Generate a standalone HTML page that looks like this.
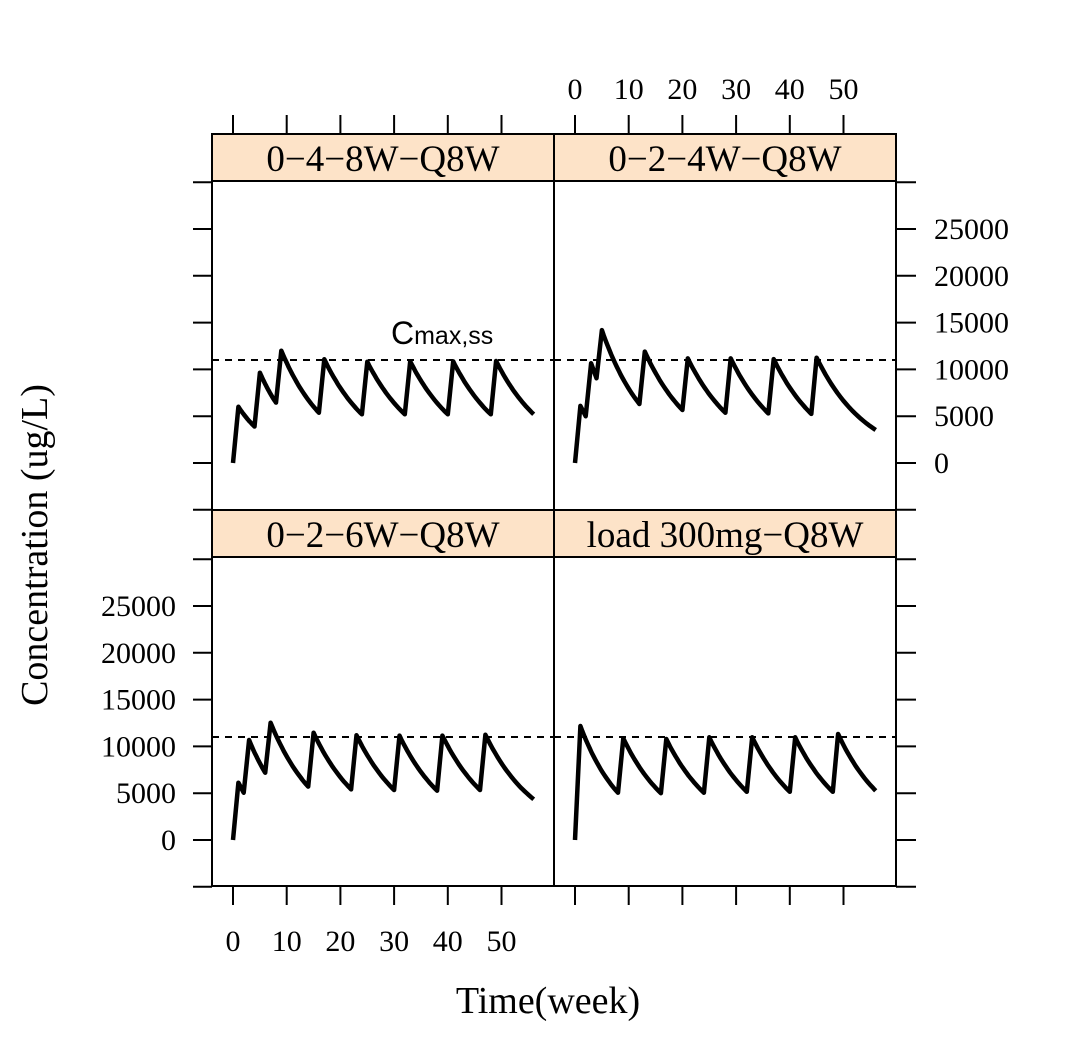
<!DOCTYPE html>
<html><head><meta charset="utf-8"><style>
html,body{margin:0;padding:0;background:#fff;}
svg{display:block;}
text{font-family:"Liberation Serif",serif;fill:#000;}
</style></head><body>
<svg id="chart" width="1080" height="1052" viewBox="0 0 1080 1052" xmlns="http://www.w3.org/2000/svg">
<g id="layer"></g>
</svg>
<script>
const panelNames = ["0\u22124\u22128W\u2212Q8W","0\u22122\u22124W\u2212Q8W","0\u22122\u22126W\u2212Q8W","load 300mg\u2212Q8W"];
const xTicks = [0,10,20,30,40,50];
const yTicks = [0,5000,10000,15000,20000,25000];
const yMinorTicks = [-5000,0,5000,10000,15000,20000,25000,30000];
const cmaxLine = 11000;
const t1 = [0,1,4,5,8,9,16,17,24,25,32,33,40,41,48,49,56];
const v1 = [0,6000,3900,9650,6450,12000,5370,11080,5200,10820,5200,10850,5200,10850,5200,10900,5200];
const t2 = [0,1,2,3,4,5,12,13,20,21,28,29,36,37,44,45,56];
const v2 = [0,6100,5000,10650,9050,14200,6300,11900,5660,11180,5370,11180,5300,11100,5250,11250,3530];
const t3 = [0,1,2,3,6,7,14,15,22,23,30,31,38,39,46,47,56];
const v3 = [0,6120,5050,10680,7190,12530,5700,11460,5410,11200,5340,11150,5270,11150,5340,11250,4350];
const t4 = [0,1,8,9,16,17,24,25,32,33,40,41,48,49,56];
const v4 = [0,12180,5050,10860,5000,10790,5050,10970,5150,10970,5150,10970,5150,11320,5260];

const NS="http://www.w3.org/2000/svg";
const L=document.getElementById('layer');
function mk(tag,attrs,parent){const e=document.createElementNS(NS,tag);for(const k in attrs)e.setAttribute(k,attrs[k]);(parent||L).appendChild(e);return e;}
const PX=[212,554], PW=342;
const STRIP=[[134,181],[510,557]];
const PLOT=[[181,510],[557,886]];
const ZERO=[463,840];
const K=0.00936, XK=5.37, X0OFF=21;
function sx(col,t){return PX[col]+X0OFF+t*XK;}
function sy(row,v){return ZERO[row]-v*K;}
const series=[[t1,v1],[t2,v2],[t3,v3],[t4,v4]];

for(let p=0;p<4;p++){
  const row=Math.floor(p/2), col=p%2;
  const g=mk('g',{});
  
  
  const s=mk('rect',{x:PX[col],y:STRIP[row][0],width:PW,height:STRIP[row][1]-STRIP[row][0],fill:'#fde3c8',stroke:'#000','stroke-width':2},g);
  
  
  const st=mk('text',{x:PX[col]+PW/2,y:STRIP[row][1]-10,'text-anchor':'middle','font-size':37},g);
  st.textContent=panelNames[p];
  
  
  const pr=mk('rect',{x:PX[col],y:PLOT[row][0],width:PW,height:PLOT[row][1]-PLOT[row][0],fill:'none',stroke:'#000','stroke-width':2},g);
  
  
  const dl=mk('line',{x1:PX[col],x2:PX[col]+PW,y1:sy(row,cmaxLine),y2:sy(row,cmaxLine),stroke:'#000','stroke-width':2,'stroke-dasharray':'7,6'},g);
  
  
  const [ts,vs]=series[p];
  let d='M'+sx(col,ts[0])+','+sy(row,vs[0]);
  for(let i=1;i<ts.length;i++){
    const a=ts[i-1],b=ts[i],va=vs[i-1],vb=vs[i];
    if(vb<va && b-a>1.5 && vb>0){
      const n=20,kk=Math.log(va/vb)/(b-a);
      for(let j=1;j<=n;j++){const t=a+(b-a)*j/n;d+=' L'+sx(col,t).toFixed(1)+','+sy(row,va*Math.exp(-kk*(t-a))).toFixed(1);}
    } else d+=' L'+sx(col,b).toFixed(1)+','+sy(row,vb).toFixed(1);
  }
  const path=mk('path',{d:d,fill:'none',stroke:'#000','stroke-width':4.5,'stroke-linejoin':'round'},g);
  
  
  xTicks.forEach(t=>{
    const x=sx(col,t);
    if(row===0){mk('line',{x1:x,x2:x,y1:115,y2:134,stroke:'#000','stroke-width':2},g);}
    else{mk('line',{x1:x,x2:x,y1:886,y2:905,stroke:'#000','stroke-width':2},g);}
    if(row===0&&col===1){const tx=mk('text',{x:x,y:99,'text-anchor':'middle','font-size':30},g);tx.textContent=t;
      }
    if(row===1&&col===0){const tx=mk('text',{x:x,y:951,'text-anchor':'middle','font-size':30},g);tx.textContent=t;
      }
  });
  yMinorTicks.forEach(v=>{
    const y=sy(row,v);
    if(col===0) mk('line',{x1:193,x2:212,y1:y,y2:y,stroke:'#000','stroke-width':2},g);
    else mk('line',{x1:896,x2:916,y1:y,y2:y,stroke:'#000','stroke-width':2},g);
  });
  yTicks.forEach(v=>{
    const y=sy(row,v);
    if(row===0&&col===1){const tx=mk('text',{x:934,y:y+10,'text-anchor':'start','font-size':30},g);tx.textContent=v;
      }
    if(row===1&&col===0){const tx=mk('text',{x:176,y:y+10,'text-anchor':'end','font-size':30},g);tx.textContent=v;
      }
  });
}
const c=mk('text',{x:391,y:344,'font-size':32});


c.style.fontFamily='"Liberation Sans",sans-serif';
c.innerHTML='C<tspan font-size="25">max,ss</tspan>';
const yt=mk('text',{x:0,y:0,'text-anchor':'middle','font-size':38,transform:'translate(47,545) rotate(-90)'});
yt.textContent='Concentration (ug/L)';


const xt=mk('text',{x:548,y:1013,'text-anchor':'middle','font-size':38});
xt.textContent='Time(week)';


</script>
</body></html>
